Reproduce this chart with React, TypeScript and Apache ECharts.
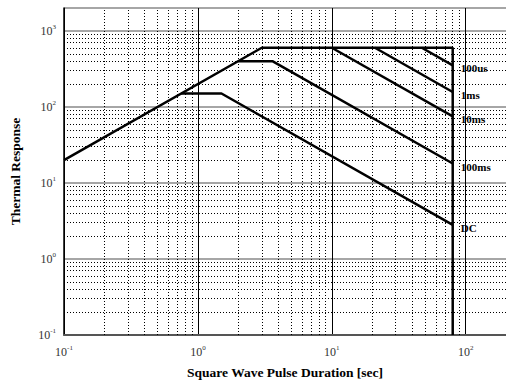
import React, { useEffect, useRef } from "react";
import * as echarts from "echarts";

// Axis ranges
const X_MIN = 0.1;
const X_MAX = 200;
const Y_MIN = 0.1;
const Y_MAX = 2000;

// Minor grid positions (multiples within each decade)
const MINOR_MULT = [2, 3, 4, 5, 6, 7, 8, 9];
const X_DECADES = [0.1, 1, 10];
const Y_DECADES = [0.1, 1, 10, 100];

// Curves: [pulse duration (s), thermal response]
const envelope: [number, number][] = [[0.1, 20], [3, 600], [80, 600], [80, 0.1]];
const dc: [number, number][] = [[0.75, 150], [1.5, 150], [80, 2.81]];
const ms100: [number, number][] = [[2, 400], [3.6, 400], [80, 18]];
const ms10: [number, number][] = [[10, 600], [80, 75]];
const ms1: [number, number][] = [[21, 600], [80, 157]];
const us100: [number, number][] = [[47, 600], [80, 352]];

const curveNames = ["100us", "1ms", "10ms", "100ms", "DC"];
const curveData = [us100, ms1, ms10, ms100, dc];

const FONT = "Liberation Serif";

function tickFmt(v: number) {
  const l = Math.log10(v);
  const e = Math.round(l);
  if (Math.abs(l - e) > 1e-6) return "";
  return `{b|10}{s|${e}}`;
}

const richTick = {
  b: { fontSize: 12, fontFamily: FONT, color: "#333" },
  s: { fontSize: 7, fontFamily: FONT, color: "#333", padding: [0, 0, 8, 0] },
};

export default function App() {
  const ref = useRef<HTMLDivElement>(null);
  useEffect(() => {
    if (!ref.current) return;
    const chart = echarts.init(ref.current, undefined, { renderer: "svg" });
    const minorX: number[] = [];
    X_DECADES.forEach((d) => MINOR_MULT.forEach((m) => minorX.push(+(d * m).toPrecision(6))));
    const minorY: number[] = [];
    Y_DECADES.forEach((d) => MINOR_MULT.forEach((m) => minorY.push(+(d * m).toPrecision(6))));

    const lineSeries = curveNames.map((name, i) => ({
      name,
      type: "line",
      data: curveData[i],
      symbol: "none",
      lineStyle: { color: "#000", width: 2.5 },
      endLabel: {
        show: true,
        formatter: name,
        position: "right",
        distance: 8,
        offset: [0, 3],
        fontFamily: FONT,
        fontWeight: "bold",
        fontSize: 11,
        color: "#000",
      },
      z: 5,
    }));

    chart.setOption({
      animation: false,
      backgroundColor: "#fff",
      grid: { left: 62, right: -1, top: 8, bottom: 50 },
      xAxis: {
        type: "log",
        logBase: 10,
        min: X_MIN,
        max: X_MAX,
        name: "Square Wave Pulse Duration [sec]",
        nameLocation: "middle",
        nameGap: 30,
        nameTextStyle: { fontFamily: FONT, fontWeight: "bold", fontSize: 13.5, color: "#000" },
        axisLine: { show: true, onZero: false, lineStyle: { color: "#555", width: 2 } },
        axisTick: { show: false },
        axisLabel: { formatter: tickFmt, rich: richTick, margin: 9, showMaxLabel: false },
        splitLine: { show: true, lineStyle: { color: "#000", width: 1 } },
      },
      yAxis: {
        type: "log",
        logBase: 10,
        min: Y_MIN,
        max: Y_MAX,
        name: "Thermal Response",
        nameLocation: "middle",
        nameGap: 42,
        nameTextStyle: { fontFamily: FONT, fontWeight: "bold", fontSize: 13.5, color: "#000" },
        axisLine: { show: true, onZero: false, lineStyle: { color: "#000", width: 1.5 } },
        axisTick: { show: false },
        axisLabel: { formatter: tickFmt, rich: richTick, margin: 8 },
        splitLine: { show: true, lineStyle: { color: "#888", width: 1.6 } },
      },
      series: [
        {
          type: "line",
          data: [],
          silent: true,
          markLine: {
            silent: true,
            symbol: "none",
            label: { show: false },
            lineStyle: { color: "#000", width: 1, type: [1, 2] },
            data: [
              ...minorX.map((x) => ({ xAxis: x })),
              ...minorY.map((y) => ({ yAxis: y })),
            ],
          },
          z: 1,
        },
        {
          type: "line",
          data: envelope,
          symbol: "none",
          lineStyle: { color: "#000", width: 2.5 },
          z: 5,
        },
        ...lineSeries,
      ],
    });
    return () => chart.dispose();
  }, []);
  return (
    <div
      ref={ref}
      style={{ position: "fixed", left: 0, top: 0, width: 506, height: 385 }}
    />
  );
}
